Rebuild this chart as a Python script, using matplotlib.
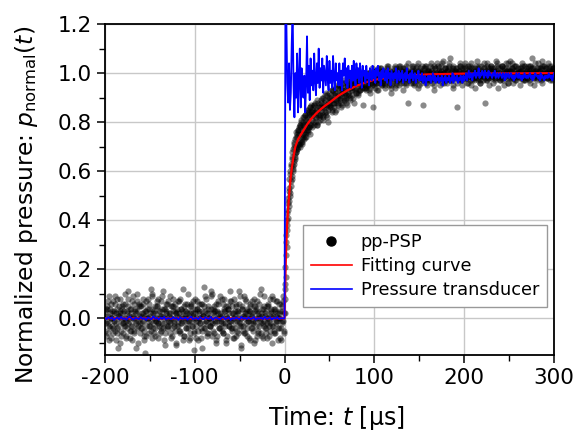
import numpy as np
import matplotlib.pyplot as plt
from matplotlib.ticker import MultipleLocator, FormatStrFormatter

plt.rcParams['font.family'] = 'DejaVu Sans'
plt.rcParams['axes.unicode_minus'] = False

# pp-PSP samples (pressure x 100), three interleaved sample sets
# t = -200 .. -1 us, 1 us step (sets b and c shifted by 1/3 and 2/3 us)
psp_pre = [3, -2, 5, -6, 1, -9, 4, 0, -3, 7, -1, -5, 2, 8, -4, -12, 1, 3, -7, 5,
           -2, 0, 6, -3, -8, 2, 11, -1, 4, -5, -3, 9, 0, -6, 3, -2, 7, -10, 1, 5,
           -4, 2, -1, 6, -7, -14, 3, 0, 8, -3, 1, -5, 4, 10, -2, -6, 2, -1, 5, -8,
           0, 3, -4, 7, -2, 1, -9, 4, 6, -3, -1, 2, -6, 9, 0, -4, 5, -2, 3, -11,
           1, -3, 7, 2, -5, 4, -1, 12, -7, 0, 3, -2, 6, -4, 1, -8, 5, -1, 2, -6,
           8, -3, 0, 4, -9, 2, -2, 6, -5, 1, 13, -4, 3, -1, -7, 5, 0, -3, 9, -2,
           4, -6, 1, 3, -10, -1, 7, -4, 2, 0, -5, 6, -2, 8, -3, 1, -7, 4, -1, 11,
           -4, 2, 5, -8, 0, -2, 6, -5, 3, -1, 9, -3, -12, 4, 1, -6, 2, 7, -4, 0,
           3, -9, 5, -2, 1, -5, 8, -1, 4, -7, 0, 2, -3, 10, -6, 1, -2, 5, -4, 3,
           -8, 0, 6, -1, -5, 2, 9, -3, 4, -6, 1, -2, 7, 0, -4, 3, -9, 5, -1, 2]
psp_pre_b = [-5, 4, -1, 7, -3, 2, -8, 6, 0, -4, 3, 9, -2, -6, 1, 5, -10, 2, -1, 4,
             6, -3, 0, -7, 3, 8, -2, 1, -5, 4, -9, 0, 6, -1, 2, -4, 10, -3, 5, -6,
             1, -2, 8, -5, 3, 0, -7, 4, -1, 6, -3, 12, -8, 2, 0, 5, -4, -1, 7, -2,
             3, -6, 1, 9, -4, 0, 4, -11, 2, 6, -3, 1, -2, 5, -7, 3, 8, -1, -5, 2,
             -3, 7, 0, -6, 4, -2, 1, -9, 5, 3, -4, 0, 10, -1, -6, 2, 6, -3, 1, -13,
             4, -1, 7, -5, 0, 3, -2, -8, 6, 1, -4, 9, -1, 2, -6, 4, 0, -3, 11, -7,
             2, 5, -2, -9, 3, 0, 6, -4, 1, -1, 8, -6, 3, -2, 5, -10, 0, 4, -3, 7,
             -1, -5, 2, 8, -4, 1, -7, 3, 0, 6, -2, -11, 5, -3, 9, 0, -6, 2, 4, -1,
             -8, 3, 1, -4, 7, -2, 5, -9, 0, 3, -5, 6, -1, 2, 12, -7, 4, -3, 1, -6,
             5, 0, -3, 8, -2, 4, -10, 1, -6, 3, 7, -1, -4, 2, 0, -8, 6, -2, 9, -5]
psp_pre_c = [1, -7, 4, -2, 9, -4, 0, 3, -6, 2, -1, 6, -9, 4, -3, 0, 8, -5, 2, -2,
             -6, 3, 10, -1, -4, 5, 0, -8, 2, -3, 7, 1, -5, 4, -12, 3, -1, 6, -2, 0,
             5, -4, 2, -9, 1, 7, -3, 0, 4, -6, 2, -1, 9, -4, 3, -7, 0, 5, -2, 8,
             -3, 1, -5, 4, 11, -2, -6, 3, 0, -4, 7, -1, 2, -8, 5, 0, -3, 6, -10, 2,
             4, -1, -5, 8, -2, 3, 0, -7, 1, 6, -4, 2, -1, -9, 5, 3, -3, 7, 0, -5,
             2, -8, 4, -1, 6, 0, -4, 3, -12, 1, 5, -2, 8, -6, 2, 0, -3, 4, -1, 10,
             -5, 3, -1, 6, -7, 2, 0, -4, 9, -2, 1, -6, 4, 3, -9, 0, 5, -3, 2, -1,
             7, -4, 0, -8, 3, 5, -1, 2, -6, 11, -3, 0, 4, -5, 1, 8, -2, -7, 3, -1,
             0, 6, -4, 2, -1, -10, 5, 3, -3, 7, -6, 1, 0, -2, 4, -8, 9, -1, 2, -4,
             -2, 5, -7, 1, 3, -3, 8, 0, -5, 4, -1, 2, -9, 6, 0, -4, 3, -1, 7, -6]
# t = 0 .. 29.5 us, 0.5 us step (set b shifted by 0.25 us)
psp_rise = [2, 14, 12, 31, 26, 40, 36, 47, 41, 52, 46, 57, 51, 60, 54, 63, 58, 66, 60, 61,
            70, 64, 72, 65, 67, 74, 68, 75, 69, 76, 70, 77, 71, 78, 70, 79, 72, 80, 73, 71,
            79, 74, 82, 73, 76, 83, 75, 80, 74, 84, 77, 82, 76, 85, 78, 83, 75, 86, 79, 84]
psp_rise_b = [8, 21, 17, 34, 29, 43, 38, 49, 44, 53, 48, 59, 50, 62, 56, 65, 57, 68, 62, 69,
              63, 71, 66, 73, 68, 70, 76, 69, 74, 71, 77, 72, 75, 79, 71, 78, 74, 81, 72, 77,
              80, 75, 78, 82, 74, 79, 83, 76, 81, 78, 85, 77, 80, 84, 78, 82, 86, 79, 83, 87]
# t = 30 .. 300 us, 1 us step (sets b and c shifted by 1/3 and 2/3 us)
psp_post = [85, 78, 83, 87, 80, 84, 79, 88, 82, 86, 83, 89, 86, 81, 88, 91, 84, 87, 80, 90,
            92, 86, 89, 84, 93, 88, 91, 85, 90, 94, 88, 95, 90, 86, 93, 92, 97, 89, 91, 87,
            96, 91, 94, 89, 97, 93, 95, 88, 98, 92, 94, 98, 91, 96, 93, 99, 95, 87, 97, 94,
            99, 93, 97, 95, 100, 92, 96, 98, 86, 95, 98, 94, 101, 96, 93, 99, 97, 102, 95, 98,
            96, 100, 94, 99, 97, 103, 95, 98, 92, 100, 101, 96, 99, 94, 102, 97, 100, 95, 98, 103,
            97, 101, 93, 99, 102, 96, 100, 88, 98, 101, 100, 96, 103, 98, 95, 101, 99, 97, 104, 94,
            99, 102, 96, 100, 87, 98, 103, 97, 101, 95, 101, 97, 100, 104, 96, 99, 93, 102, 98, 100,
            97, 103, 99, 95, 101, 98, 105, 96, 100, 102, 100, 96, 102, 99, 106, 97, 101, 94, 103, 98,
            99, 101, 86, 100, 97, 103, 98, 95, 102, 100, 98, 104, 100, 96, 101, 99, 103, 95, 100, 97,
            102, 98, 94, 100, 105, 97, 101, 99, 96, 103, 99, 97, 102, 88, 100, 104, 98, 101, 95, 100,
            103, 99, 96, 101, 98, 105, 100, 94, 102, 99, 97, 101, 103, 99, 95, 100, 104, 98, 101, 96,
            100, 105, 98, 102, 96, 101, 99, 103, 97, 100, 102, 99, 95, 101, 104, 98, 100, 97, 103, 99,
            98, 103, 100, 96, 102, 106, 99, 101, 95, 100, 101, 97, 104, 99, 102, 98, 105, 96, 100, 103,
            99, 102, 98, 104, 100, 97, 103, 101, 99, 102, 100]
psp_post_b = [81, 86, 79, 84, 88, 82, 85, 80, 87, 83, 88, 84, 90, 82, 86, 89, 83, 91, 85, 88,
              87, 91, 85, 93, 89, 86, 92, 88, 95, 90, 93, 89, 94, 91, 87, 96, 90, 93, 88, 95,
              92, 97, 90, 94, 96, 91, 95, 98, 93, 96, 97, 92, 99, 95, 93, 98, 94, 97, 100, 95,
              94, 98, 96, 100, 93, 97, 99, 95, 101, 97, 100, 96, 98, 93, 102, 97, 99, 101, 96, 98,
              97, 101, 95, 99, 103, 98, 96, 100, 94, 99, 99, 102, 97, 100, 95, 101, 98, 103, 99, 96,
              100, 97, 102, 98, 101, 95, 99, 104, 97, 100, 98, 102, 99, 96, 101, 100, 97, 103, 99, 95,
              101, 98, 100, 103, 97, 99, 102, 96, 100, 98, 99, 103, 97, 101, 98, 100, 95, 102, 99, 104,
              100, 97, 101, 99, 103, 96, 100, 98, 102, 97, 98, 101, 99, 104, 97, 100, 102, 95, 99, 101,
              102, 99, 96, 101, 98, 103, 100, 97, 101, 99, 99, 103, 98, 100, 96, 102, 99, 104, 98, 101,
              100, 97, 102, 99, 101, 98, 103, 96, 100, 99, 101, 99, 104, 98, 100, 97, 102, 99, 101, 103,
              98, 102, 99, 101, 97, 100, 104, 98, 99, 102, 100, 98, 103, 97, 101, 99, 102, 100, 96, 101,
              102, 99, 101, 104, 98, 100, 97, 103, 99, 100, 99, 101, 98, 102, 100, 97, 103, 99, 101, 98,
              101, 100, 97, 103, 99, 102, 98, 100, 104, 99, 100, 98, 102, 99, 101, 97, 103, 100, 98, 101,
              99, 102, 100, 98, 103, 99, 101, 97, 102, 100]
psp_post_c = [84, 80, 87, 82, 85, 79, 89, 83, 86, 81, 85, 90, 83, 87, 84, 92, 86, 82, 89, 87,
              90, 86, 93, 88, 91, 84, 94, 89, 92, 87, 91, 95, 88, 92, 94, 89, 96, 92, 90, 94,
              95, 91, 98, 93, 95, 90, 97, 94, 96, 92, 96, 99, 93, 97, 95, 100, 96, 98, 94, 97,
              98, 95, 100, 97, 94, 99, 96, 102, 98, 96, 99, 101, 97, 100, 96, 98, 102, 95, 99, 101,
              100, 96, 99, 102, 98, 100, 97, 101, 95, 100, 98, 100, 103, 96, 99, 101, 97, 100, 102, 98,
              101, 99, 96, 100, 103, 98, 101, 97, 100, 99, 97, 101, 103, 99, 100, 96, 102, 98, 101, 100,
              100, 98, 101, 97, 102, 100, 99, 103, 98, 101, 101, 99, 97, 102, 100, 98, 103, 99, 100, 97,
              99, 102, 100, 98, 101, 104, 99, 100, 97, 102, 101, 98, 103, 100, 99, 97, 101, 102, 98, 100,
              100, 102, 98, 101, 99, 104, 97, 100, 102, 99, 102, 98, 100, 103, 99, 101, 97, 102, 100, 98,
              99, 101, 103, 98, 100, 102, 99, 97, 101, 100, 100, 102, 99, 101, 97, 103, 100, 98, 102, 99,
              101, 99, 102, 100, 98, 101, 103, 99, 100, 97, 99, 103, 100, 98, 102, 99, 101, 100, 104, 98,
              101, 98, 100, 102, 99, 103, 98, 101, 100, 99, 100, 102, 98, 101, 103, 99, 100, 97, 102, 101,
              98, 101, 100, 103, 99, 100, 102, 98, 101, 99, 102, 100, 99, 101, 98, 102, 100, 103, 99, 100,
              100, 98, 101, 99, 102, 100, 98, 101, 99, 102]

# fitting curve
fit_t = [-200, 0, 0.5, 1, 1.5, 2, 3, 4, 5, 6, 7, 8, 10, 12, 15, 20, 25, 30, 35, 40,
         45, 50, 60, 70, 80, 90, 100, 120, 140, 160, 200, 250, 300]
fit_p = [0, 0, 0.10, 0.18, 0.25, 0.31, 0.39, 0.45, 0.50, 0.54, 0.58, 0.61, 0.66, 0.70,
         0.73, 0.76, 0.79, 0.815, 0.835, 0.852, 0.867, 0.88, 0.908, 0.93, 0.948, 0.962,
         0.973, 0.985, 0.991, 0.995, 0.998, 0.999, 1.0]

# pressure transducer
# t = -200 .. -2 us, 2 us step (pressure x 1000)
trans_pre = [2, -3, 5, -1, 4, -6, 0, 3, -4, 6, -2, 1, -5, 3, 7, -1, -4, 2, 0, -3,
             5, -2, 1, -6, 4, 0, -3, 8, -1, 2, -5, 3, -2, 6, -4, 1, 0, -3, 5, -1,
             2, -6, 4, -2, 0, 3, -5, 1, 7, -3, 0, 2, -4, 5, -1, -3, 4, 0, -2, 6,
             -5, 1, 3, -1, -4, 2, 5, -3, 0, 4, -6, 1, -2, 3, 0, -4, 6, -1, 2, -3,
             4, -2, 0, 5, -5, 1, -1, 3, -3, 6, -2, 0, 4, -4, 2, -1, 5, -3, 1, 0]
# t = 0 .. 300 us, 1 us step (pressure x 100)
trans_post = [0,
              128, 122, 96, 88, 104, 85, 92, 112, 126, 95, 82, 100, 90, 108, 84, 98, 110, 86, 102, 93,
              90, 99, 84, 96, 115, 92, 103, 89, 106, 95, 101, 93, 108, 97, 91, 104, 96, 110, 94, 102,
              97, 106, 92, 103, 99, 95, 107, 98, 93, 105, 96, 101, 94, 107, 98, 93, 104, 97, 100, 95,
              104, 95, 101, 93, 104, 99, 106, 96, 102, 94, 103, 98, 101, 94, 103, 97, 105, 99, 95, 104,
              98, 102, 96, 104, 100, 94, 103, 99, 101, 96, 103, 98, 100, 95, 102, 99, 97, 103, 98, 101,
              96, 102, 99, 103, 97, 100, 95, 101, 98, 102, 99, 97, 101, 96, 102, 98, 100, 95, 101, 99,
              97, 100, 98, 102, 96, 99, 101, 97, 100, 98, 101, 96, 99, 100, 97, 102, 98, 99, 96, 100,
              98, 101, 97, 99, 100, 96, 99, 98, 101, 97, 99, 97, 100, 96, 98, 99, 95, 98, 97, 99,
              97, 99, 96, 98, 100, 97, 99, 96, 98, 97, 99, 96, 98, 97, 99, 95, 98, 97, 99, 96,
              98, 97, 99, 96, 98, 97, 100, 96, 99, 98, 97, 99, 96, 98, 97, 99, 98, 96, 99, 97,
              98, 100, 97, 99, 101, 98, 100, 99, 97, 100, 99, 101, 98, 100, 99, 102, 98, 100, 99, 101,
              100, 98, 101, 99, 100, 98, 101, 99, 100, 99, 98, 100, 99, 101, 98, 99, 100, 98, 99, 100,
              99, 98, 100, 99, 97, 100, 98, 99, 100, 98, 99, 100, 98, 99, 97, 99, 98, 100, 99, 98,
              100, 98, 99, 97, 99, 98, 100, 99, 98, 99, 98, 99, 100, 98, 99, 97, 99, 98, 100, 99,
              99, 98, 99, 97, 100, 98, 99, 98, 97, 99, 98, 99, 98, 100, 99, 98, 99, 97, 99, 100]

pre_t = np.arange(-200, 0, 1.0)
post_t = np.arange(30, 301, 1.0)
psp_t = np.concatenate([pre_t, pre_t + 1 / 3, pre_t + 2 / 3,
                        np.arange(0, 30, 0.5), np.arange(0.25, 30, 0.5),
                        post_t, post_t[:-1] + 1 / 3, post_t[:-1] + 2 / 3])
psp_p = np.array(psp_pre + psp_pre_b + psp_pre_c + psp_rise + psp_rise_b
                 + psp_post + psp_post_b + psp_post_c) / 100.0
trans_t = np.concatenate([np.arange(-200, 0, 2.0), np.arange(0, 301, 1.0)])
trans_p = np.concatenate([np.array(trans_pre) / 1000.0, np.array(trans_post) / 100.0])

fig = plt.figure(figsize=(5.76, 4.30), dpi=100)
ax = fig.add_axes([0.182, 0.174, 0.78, 0.77])

ax.scatter(psp_t, psp_p, s=20, color='black', alpha=0.46, linewidths=0, zorder=2)
ax.plot(fit_t, fit_p, color='red', lw=1.6, zorder=3)
ax.plot(trans_t, trans_p, color='blue', lw=1.3, zorder=4)

# legend handles
ax.plot([], [], 'o', color='black', ms=6.5, label='pp-PSP')
ax.plot([], [], color='red', lw=1.2, label='Fitting curve')
ax.plot([], [], color='blue', lw=1.2, label='Pressure transducer')
leg = ax.legend(loc='lower right', bbox_to_anchor=(0.984, 0.145), borderaxespad=0,
                fontsize=12.8, fancybox=False, framealpha=1, edgecolor='#999999',
                handlelength=2.3, borderpad=0.45, labelspacing=0.33, handletextpad=0.5)
leg.get_frame().set_linewidth(1.0)

ax.set_xlim(-200, 300)
ax.set_ylim(-0.15, 1.2)
ax.xaxis.set_major_locator(MultipleLocator(100))
ax.xaxis.set_minor_locator(MultipleLocator(50))
ax.yaxis.set_major_locator(MultipleLocator(0.2))
ax.yaxis.set_minor_locator(MultipleLocator(0.1))
ax.yaxis.set_major_formatter(FormatStrFormatter('%.1f'))
ax.tick_params(which='major', direction='out', length=6, width=1.1, labelsize=15.5)
ax.tick_params(which='minor', direction='out', length=4, width=1.0)
ax.grid(True, which='major', color='#c8c8c8', lw=1.0, zorder=0)
ax.set_axisbelow(True)
for sp in ax.spines.values():
    sp.set_linewidth(1.3)

ax.set_xlabel('Time: $t$ [μs]', fontsize=17)
ax.set_ylabel(r'Normalized pressure: $p_{\mathrm{normal}}(t)$', fontsize=16.8)
ax.xaxis.set_label_coords(0.515, -0.146)
ax.yaxis.set_label_coords(-0.145, 0.453)

fig.savefig('out.png', dpi=100)
